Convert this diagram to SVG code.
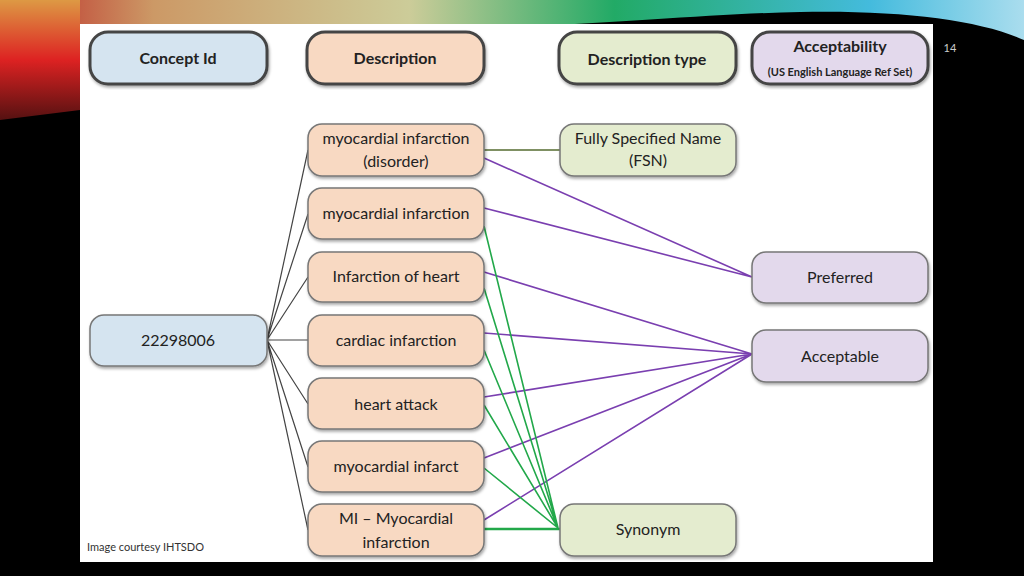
<svg xmlns="http://www.w3.org/2000/svg" width="1024" height="576" viewBox="0 0 1024 576">
<defs>
<linearGradient id="sw" x1="0" y1="0" x2="1" y2="0">
<stop offset="0" stop-color="#b22"/><stop offset="0.15" stop-color="#c96"/><stop offset="0.4" stop-color="#cc9"/><stop offset="0.6" stop-color="#2a6"/><stop offset="0.85" stop-color="#4bd"/><stop offset="1" stop-color="#ade"/>
</linearGradient>
<linearGradient id="lf" x1="0" y1="0" x2="0" y2="1">
<stop offset="0" stop-color="#d94"/><stop offset="0.5" stop-color="#d22"/><stop offset="1" stop-color="#511"/>
</linearGradient>
<filter id="sh"><feDropShadow dx="1" dy="2" stdDeviation="1.5" flood-opacity="0.35"/></filter>
</defs>
<style>
.n{stroke:#777;stroke-width:1.5;filter:url(#sh)}
.h{stroke:#444;stroke-width:3;filter:url(#sh)}
.d{fill:#f8d9c2}.c{fill:#d5e4f0}.t{fill:#e4eccf}.a{fill:#e3d9ec}
text{font-family:Lato,"Open Sans",sans-serif;font-size:16px;fill:#222;text-anchor:middle}
.b{font-weight:bold;font-size:16px}
.k{stroke:#444;stroke-width:1.2;fill:none}
.p{stroke:#7a3fb0;stroke-width:1.6;fill:none}
.g{stroke:#22a84a;stroke-width:1.6;fill:none}
</style>
<rect width="1024" height="576" fill="#000"/>
<path d="M0 0 H1024 V40 C980 20 900 10 800 12 C650 15 500 40 80 30 L0 50 Z" fill="url(#sw)"/>
<path d="M0 0 H80 V110 L0 120 Z" fill="url(#lf)"/>
<rect x="80" y="24" width="853" height="538" fill="#fff"/>
<text x="950" y="52" style="font-size:11px;fill:#ccc">14</text>
<text x="87" y="551" style="font-size:11px;fill:#333;text-anchor:start">Image courtesy IHTSDO</text>
<g id="connectors">
<path class="k" d="M267 340 L308 150 M267 340 L308 214 M267 340 L308 277 M267 340 L308 340 M267 340 L308 404 M267 340 L308 467 M267 340 L308 530"/>
<path d="M484 150 H560" stroke="#556b2f" stroke-width="1.6"/>
<path class="p" d="M484 158 L752 277 M484 208 L752 277 M484 272 L752 354 M484 333 L752 354 M484 397 L752 354 M484 458 L752 354 M484 520 L752 354"/>
<path class="g" d="M484 226 L558 528 M484 288 L558 528 M484 350 L558 528 M484 405 L558 528 M484 468 L558 528"/>
<path d="M484 529 H560" stroke="#22a84a" stroke-width="2.5"/>
</g>
<g id="h-concept"><rect class="h c" x="90" y="32" width="177" height="52" rx="18"/><text class="b" x="178" y="64">Concept Id</text></g>
<g id="h-desc"><rect class="h d" x="307" y="32" width="177" height="52" rx="18"/><text class="b" x="395" y="64">Description</text></g>
<g id="h-type"><rect class="h t" x="559" y="32" width="177" height="52" rx="18"/><text class="b" x="647" y="65">Description type</text></g>
<g id="h-acc"><rect class="h a" x="752" y="32" width="176" height="52" rx="18"/><text class="b" x="840" y="52">Acceptability</text><text class="b" x="840" y="76" style="font-size:11px">(US English Language Ref Set)</text></g>
<g id="n-id"><rect class="n c" x="90" y="315" width="177" height="51" rx="14"/><text x="178" y="346">22298006</text></g>
<g id="n-d1"><rect class="n d" x="308" y="124" width="176" height="52" rx="14"/><text x="396" y="144">myocardial infarction</text><text x="396" y="167">(disorder)</text></g>
<g id="n-d2"><rect class="n d" x="308" y="188" width="176" height="51" rx="14"/><text x="396" y="219">myocardial infarction</text></g>
<g id="n-d3"><rect class="n d" x="308" y="252" width="176" height="50" rx="14"/><text x="396" y="282">Infarction of heart</text></g>
<g id="n-d4"><rect class="n d" x="308" y="315" width="176" height="51" rx="14"/><text x="396" y="346">cardiac infarction</text></g>
<g id="n-d5"><rect class="n d" x="308" y="378" width="176" height="51" rx="14"/><text x="396" y="410">heart attack</text></g>
<g id="n-d6"><rect class="n d" x="308" y="441" width="176" height="51" rx="14"/><text x="396" y="472">myocardial infarct</text></g>
<g id="n-d7"><rect class="n d" x="308" y="504" width="176" height="52" rx="14"/><text x="396" y="524">MI – Myocardial</text><text x="396" y="548">infarction</text></g>
<g id="n-fsn"><rect class="n t" x="560" y="124" width="176" height="52" rx="14"/><text x="648" y="144">Fully Specified Name</text><text x="648" y="166">(FSN)</text></g>
<g id="n-syn"><rect class="n t" x="560" y="504" width="176" height="52" rx="14"/><text x="648" y="535">Synonym</text></g>
<g id="n-pref"><rect class="n a" x="752" y="252" width="176" height="51" rx="14"/><text x="840" y="283">Preferred</text></g>
<g id="n-acc"><rect class="n a" x="752" y="330" width="176" height="52" rx="14"/><text x="840" y="362">Acceptable</text></g>
</svg>
